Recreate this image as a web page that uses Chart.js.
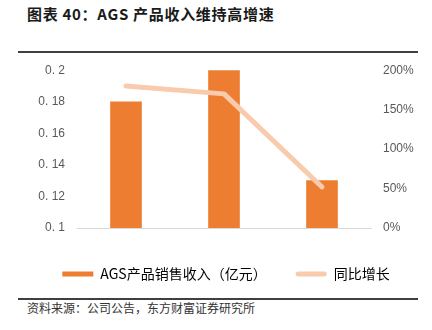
<!DOCTYPE html>
<html>
<head>
<meta charset="utf-8">
<script src="https://cdn.jsdelivr.net/npm/chart.js@4/dist/chart.umd.min.js"></script>
<style>
  body { margin: 0; background: #fff; }
  #page { position: relative; width: 432px; height: 330px; overflow: hidden; }
  .title { position: absolute; left: 27px; top: 3px; font: bold 15px "Noto Sans CJK SC", sans-serif; letter-spacing: 0.7px; color: #1a1a1a; white-space: nowrap; }
  .rule { position: absolute; left: 18px; width: 400px; background: #404040; }
  .source { position: absolute; left: 27px; top: 299px; font: 12px "Noto Sans CJK SC", sans-serif; color: #333; white-space: nowrap; }
  #wrap { position: absolute; left: 0; top: 51px; width: 432px; height: 240px; }
</style>
</head>
<body>
<div id="page">
  <div class="title">图表 40：AGS 产品收入维持高增速</div>
  <div class="rule" style="top:51px;height:2px;"></div>
  <div id="wrap"><canvas id="chart"></canvas></div>
  <div class="rule" style="top:298px;height:1.5px;"></div>
  <div class="source">资料来源：公司公告，东方财富证券研究所</div>
</div>
<script>
// categories and series
const periods = ["2021", "2022", "2023Q1"];
const revenue = [0.18, 0.20, 0.13];   // 亿元
const growth = [180, 170, 52];        // %

const leftTicks = [0.1, 0.12, 0.14, 0.16, 0.18, 0.2];
const rightTicks = [0, 50, 100, 150, 200];

const barColor = '#ED7D31';
const lineColor = '#F8CBAD';
const tickFont = { family: '"Liberation Sans", Arial, sans-serif', size: 12 };
const tickColor = '#595959';

new Chart(document.getElementById('chart'), {
    type: 'bar',
    data: {
        labels: periods,
        datasets: [{
            type: 'line',
            label: '同比增长',
            data: growth,
            yAxisID: 'y1',
            borderColor: lineColor,
            backgroundColor: lineColor,
            borderWidth: 5,
            borderCapStyle: 'round',
            borderJoinStyle: 'round',
            pointRadius: 0,
            tension: 0,
            order: 0
        }, {
            label: 'AGS产品销售收入（亿元）',
            data: revenue,
            yAxisID: 'y',
            backgroundColor: barColor,
            barThickness: 31,
            order: 1
        }]
    },
    options: {
        responsive: true,
        maintainAspectRatio: false,
        animation: false,
        // left padding pushes the legend centre right; y axis width compensates
        layout: { padding: { top: 16, left: 20, right: 0, bottom: 0 } },
        plugins: {
            tooltip: { enabled: false },
            legend: {
                position: 'bottom',
                reverse: true,
                labels: {
                    boxWidth: 31,
                    boxHeight: 5,
                    padding: 29,
                    color: tickColor,
                    font: { family: '"Noto Sans CJK SC", sans-serif', size: 14 },
                    generateLabels: chart => chart.data.datasets.map((ds, i) => ({
                        text: ds.label,
                        fillStyle: ds.backgroundColor,
                        strokeStyle: ds.backgroundColor,
                        lineWidth: 0,
                        borderRadius: ds.type === 'line' ? 2.5 : 0,
                        datasetIndex: i,
                        hidden: false
                    }))
                }
            }
        },
        scales: {
            x: {
                grid: { display: false, drawTicks: false },
                border: { display: true, color: '#D9D9D9', width: 1 },
                ticks: { color: tickColor, font: tickFont, padding: 9 },
                afterFit: s => { s.height = 10; }
            },
            y: {
                position: 'left',
                min: 0.1,
                max: 0.2,
                grid: { display: false, drawTicks: false },
                border: { display: false },
                afterBuildTicks: s => { s.ticks = leftTicks.map(v => ({ value: v })); },
                ticks: {
                    color: tickColor,
                    font: tickFont,
                    padding: 12,
                    callback: v => String(parseFloat(v.toFixed(2))).replace('.', '. ')
                },
                afterFit: s => { s.width = 57; }
            },
            y1: {
                position: 'right',
                min: 0,
                max: 200,
                grid: { display: false, drawTicks: false },
                border: { display: false },
                afterBuildTicks: s => { s.ticks = rightTicks.map(v => ({ value: v })); },
                ticks: {
                    color: tickColor,
                    font: tickFont,
                    padding: 12,
                    callback: v => v + '%'
                },
                afterFit: s => { s.width = 61; }
            }
        }
    }
});
</script>
</body>
</html>
